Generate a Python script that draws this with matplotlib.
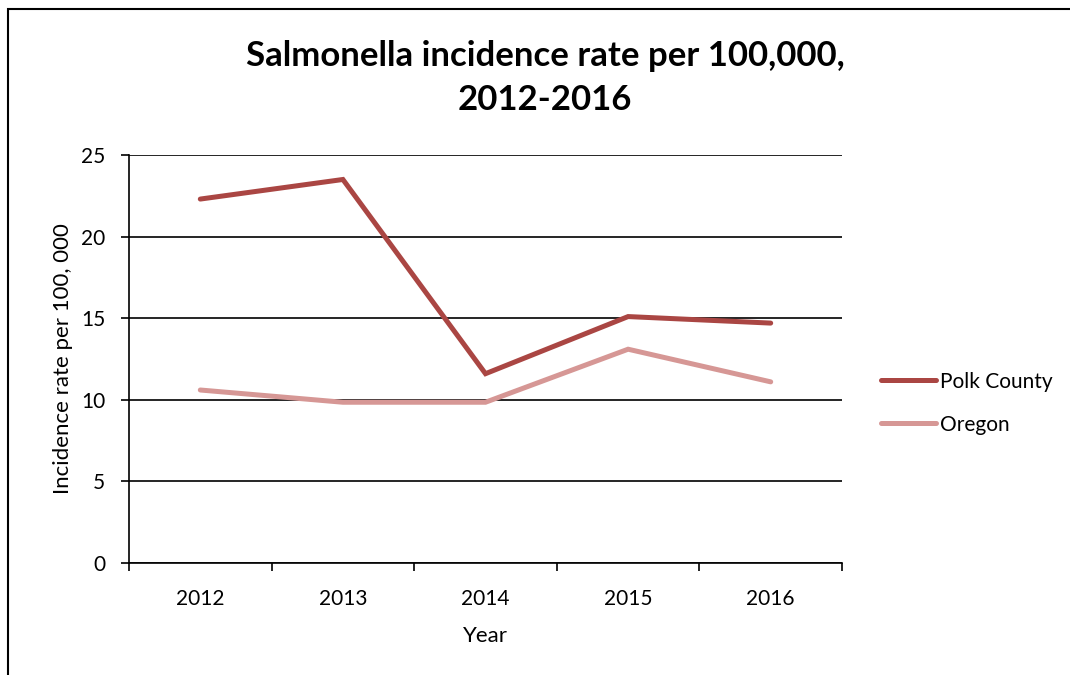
import numpy as np
import matplotlib.pyplot as plt
from matplotlib.patches import Rectangle
from matplotlib.ticker import FixedLocator

plt.rcParams['font.family'] = ['Lato', 'DejaVu Sans']

# Data
years = ['2012', '2013', '2014', '2015', '2016']
polk_county = [22.3, 23.5, 11.6, 15.1, 14.7]
oregon = [10.6, 9.85, 9.85, 13.1, 11.1]

polk_color = '#AA4643'
oregon_color = '#D69795'

fig = plt.figure(figsize=(10.7, 6.75), dpi=100)
ax = fig.add_axes([129 / 1070, 1 - 563 / 675, (842 - 129) / 1070, (563 - 155) / 675])

x = np.arange(len(years))
ax.plot(x, polk_county, color=polk_color, lw=3.6, solid_capstyle='round',
        solid_joinstyle='miter', label='Polk County', zorder=3)
ax.plot(x, oregon, color=oregon_color, lw=3.6, solid_capstyle='round',
        solid_joinstyle='miter', label='Oregon', zorder=3)

ax.set_xlim(-0.5, len(years) - 0.5)
ax.set_ylim(0, 25)
ax.set_yticks([0, 5, 10, 15, 20, 25])
ax.yaxis.grid(True, color='black', lw=1.2)
ax.set_axisbelow(True)

ax.set_xticks(x)
ax.set_xticklabels(years, fontsize=15)
ax.xaxis.set_minor_locator(FixedLocator(np.arange(-0.5, len(years), 1.0)))
ax.tick_params(axis='x', which='major', length=0, pad=19)
ax.tick_params(axis='x', which='minor', length=6, width=1.2, direction='out')
ax.tick_params(axis='y', length=6, width=1.2, labelsize=15, pad=11)

for side in ['top', 'right']:
    ax.spines[side].set_visible(False)
for side in ['left', 'bottom']:
    ax.spines[side].set_linewidth(1.2)

ax.set_xlabel('Year', fontsize=16, labelpad=12)
ax.set_ylabel('Incidence rate per 100, 000', fontsize=16, labelpad=6)

fig.text(545 / 1070, 1 - 78 / 675, 'Salmonella incidence rate per 100,000,\n2012-2016',
         ha='center', va='center', fontsize=25, fontweight='bold', linespacing=1.5)

leg = ax.legend(loc='center left', bbox_to_anchor=(1 + 39 / 713, 0.392), frameon=False,
                fontsize=15, handlelength=2.65, handletextpad=0.2, labelspacing=1.1,
                borderpad=0, borderaxespad=0)

# outer chart border (runs off the right and bottom of the image)
fig.patches.append(Rectangle((8 / 1070, -0.05), 1.1, 1 - 9 / 675 + 0.05,
                             transform=fig.transFigure, fill=False,
                             edgecolor='black', lw=1.5))

fig.savefig('out.png', dpi=100)
